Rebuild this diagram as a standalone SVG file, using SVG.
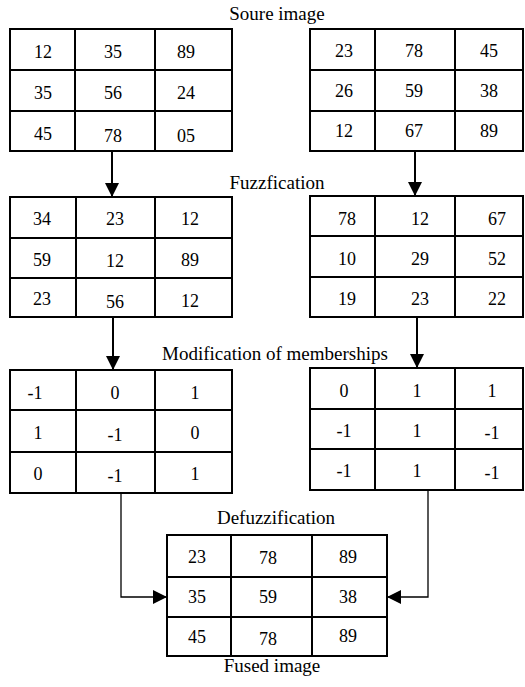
<svg xmlns="http://www.w3.org/2000/svg" width="525" height="687" viewBox="0 0 525 687" font-family="'Liberation Serif', 'Times New Roman', Times, serif">
<style>
.g{fill:#fff;stroke:#000;stroke-width:2}
.l{stroke:#000;stroke-width:2;fill:none}
.c{stroke:#000;stroke-width:1.3;fill:none}
text{font-family:'Liberation Serif','Times New Roman',Times,serif;fill:#000;text-anchor:middle}
.n{font-size:18px}
.t{font-size:19px}
</style>
<defs>
<marker id="ah" viewBox="0 0 14 14" refX="14" refY="7" markerWidth="14" markerHeight="14" markerUnits="userSpaceOnUse" orient="auto">
<path d="M0,0 L14,7 L0,14 Z" fill="#000"/>
</marker>
</defs>
<rect width="525" height="687" fill="#fff"/>

<g id="labels">
<text class="t" x="277" y="20">Soure image</text>
<text class="t" x="277" y="189">Fuzzfication</text>
<text class="t" x="275" y="360">Modification of memberships</text>
<text class="t" x="276" y="524">Defuzzification</text>
<text class="t" x="272" y="672">Fused image</text>
</g>

<g id="src1">
<rect class="g" x="10" y="29" width="222" height="122"/>
<path class="l" d="M75,29V151M155,29V151M10,70H232M10,111H232"/>
<text class="n" x="43" y="58">12</text><text class="n" x="113" y="58">35</text><text class="n" x="186" y="58">89</text>
<text class="n" x="43" y="99">35</text><text class="n" x="113" y="99">56</text><text class="n" x="186" y="99">24</text>
<text class="n" x="43" y="140">45</text><text class="n" x="113" y="142">78</text><text class="n" x="186" y="142">05</text>
</g>

<g id="src2">
<rect class="g" x="310" y="29" width="213" height="122"/>
<path class="l" d="M375,29V151M455,29V151M310,70H523M310,111H523"/>
<text class="n" x="344" y="57">23</text><text class="n" x="414" y="57">78</text><text class="n" x="489" y="57">45</text>
<text class="n" x="344" y="97">26</text><text class="n" x="414" y="97">59</text><text class="n" x="489" y="97">38</text>
<text class="n" x="344" y="137">12</text><text class="n" x="414" y="137">67</text><text class="n" x="489" y="137">89</text>
</g>

<g id="fuzz1">
<rect class="g" x="10" y="197" width="222" height="120"/>
<path class="l" d="M76,197V317M155,197V317M10,238H232M10,278H232"/>
<text class="n" x="42" y="225">34</text><text class="n" x="115" y="225">23</text><text class="n" x="190" y="225">12</text>
<text class="n" x="42" y="266">59</text><text class="n" x="115" y="267">12</text><text class="n" x="190" y="266">89</text>
<text class="n" x="42" y="305">23</text><text class="n" x="115" y="308">56</text><text class="n" x="190" y="307">12</text>
</g>

<g id="fuzz2">
<rect class="g" x="310" y="196" width="213" height="121"/>
<path class="l" d="M375,196V317M455,196V317M310,236H523M310,277H523"/>
<text class="n" x="347" y="225">78</text><text class="n" x="420" y="225">12</text><text class="n" x="497" y="225">67</text>
<text class="n" x="347" y="265">10</text><text class="n" x="420" y="265">29</text><text class="n" x="497" y="265">52</text>
<text class="n" x="347" y="305">19</text><text class="n" x="420" y="305">23</text><text class="n" x="497" y="305">22</text>
</g>

<g id="mod1">
<rect class="g" x="10" y="370" width="222" height="123"/>
<path class="l" d="M76,370V493M155,370V493M10,410H232M10,452H232"/>
<text class="n" x="35" y="399">-1</text><text class="n" x="115" y="399">0</text><text class="n" x="195" y="399">1</text>
<text class="n" x="38" y="439">1</text><text class="n" x="115" y="441">-1</text><text class="n" x="195" y="439">0</text>
<text class="n" x="38" y="480">0</text><text class="n" x="115" y="482">-1</text><text class="n" x="195" y="480">1</text>
</g>

<g id="mod2">
<rect class="g" x="310" y="368" width="213" height="122"/>
<path class="l" d="M375,368V490M455,368V490M310,409H523M310,449H523"/>
<text class="n" x="344" y="397">0</text><text class="n" x="417" y="397">1</text><text class="n" x="492" y="397">1</text>
<text class="n" x="344" y="437">-1</text><text class="n" x="417" y="437">1</text><text class="n" x="492" y="439">-1</text>
<text class="n" x="344" y="477">-1</text><text class="n" x="417" y="477">1</text><text class="n" x="492" y="479">-1</text>
</g>

<g id="fused">
<rect class="g" x="167" y="535" width="220" height="121"/>
<path class="l" d="M231,535V656M312,535V656M167,577H387M167,617H387"/>
<text class="n" x="197" y="563">23</text><text class="n" x="268" y="564">78</text><text class="n" x="348" y="563">89</text>
<text class="n" x="197" y="603">35</text><text class="n" x="268" y="603">59</text><text class="n" x="348" y="603">38</text>
<text class="n" x="197" y="643">45</text><text class="n" x="268" y="645">78</text><text class="n" x="348" y="642">89</text>
</g>

<g id="connectors">
<path class="l" d="M112,151V197" marker-end="url(#ah)"/>
<path class="l" d="M415,151V196" marker-end="url(#ah)"/>
<path class="l" d="M113,317V370" marker-end="url(#ah)"/>
<path class="l" d="M417,317V368" marker-end="url(#ah)"/>
<path class="c" d="M121,493V597H167" marker-end="url(#ah)"/>
<path class="c" d="M428,490V597H387" marker-end="url(#ah)"/>
</g>
</svg>
